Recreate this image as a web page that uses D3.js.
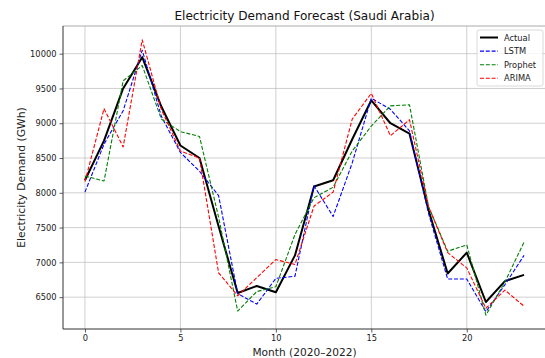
<!DOCTYPE html>
<html>
<head>
<meta charset="utf-8">
<script src="https://cdn.jsdelivr.net/npm/d3@7"></script>
<style>
  html, body { margin: 0; padding: 0; background: #fff; }
  svg { display: block; font-family: "DejaVu Sans", sans-serif; }
</style>
</head>
<body>
<svg id="chart" width="545" height="358"></svg>
<script>
// Monthly electricity demand (GWh), Jan 2020 – Dec 2022, with three model forecasts
const months = d3.range(24);
const actual  = [8180, 8750, 9500, 9950, 9240, 8680, 8500, 7520, 6560, 6660, 6570, 7100,
                 8090, 8180, 8770, 9330, 9000, 8850, 7750, 6840, 7140, 6430, 6730, 6820];
const lstm    = [8010, 8700, 9180, 10050, 9100, 8580, 8310, 7960, 6550, 6400, 6770, 6800,
                 8100, 7660, 8430, 9360, 9200, 8890, 7700, 6760, 6760, 6290, 6680, 7100];
const prophet = [8240, 8170, 9610, 9830, 9060, 8880, 8810, 7650, 6300, 6580, 6650, 7400,
                 7930, 8080, 8600, 8960, 9250, 9265, 7800, 7160, 7250, 6240, 6720, 7290];
const arima   = [8160, 9210, 8660, 10200, 9200, 8600, 8500, 6850, 6520, 6780, 7040, 6970,
                 7810, 8010, 9060, 9430, 8820, 9050, 7800, 7140, 6920, 6340, 6600, 6370];
const xTicks = [0, 5, 10, 15, 20];
const yTicks = [6500, 7000, 7500, 8000, 8500, 9000, 9500, 10000];

const seriesNames  = ["Actual", "LSTM", "Prophet", "ARIMA"];
const seriesValues = [actual, lstm, prophet, arima];
const seriesColors = ["#000000", "#0000ff", "#008000", "#ff0000"];

const svg = d3.select("#chart");
const margin = { left: 63, right: -1, top: 26, bottom: 29 };
const W = 545, H = 358;
const x0 = margin.left, x1 = W - margin.right, y0 = margin.top, y1 = H - margin.bottom;

// Axis limits padded by 5% of the data span on each side
const xPad = (months.length - 1) * 0.05;
const x = d3.scaleLinear().domain([-xPad, months.length - 1 + xPad]).range([x0, x1]);
const all = seriesValues.flat();
const lo = d3.min(all), hi = d3.max(all), yPad = (hi - lo) * 0.05;
const y = d3.scaleLinear().domain([lo - yPad, hi + yPad]).range([y1, y0]);

svg.append("defs").append("clipPath").attr("id", "plot")
  .append("rect").attr("x", x0).attr("y", y0).attr("width", x1 - x0).attr("height", y1 - y0);

// Grid
const grid = svg.append("g").attr("stroke", "#b0b0b0").attr("stroke-opacity", 0.6).attr("stroke-width", 1);
xTicks.forEach(t => grid.append("line")
  .attr("x1", x(t)).attr("x2", x(t)).attr("y1", y0).attr("y2", y1));
yTicks.forEach(t => grid.append("line")
  .attr("x1", x0).attr("x2", x1).attr("y1", y(t)).attr("y2", y(t)));

// Axes
const xAxis = svg.append("g").attr("transform", `translate(0,${y1})`)
  .call(d3.axisBottom(x).tickValues(xTicks).tickSize(3.5).tickPadding(3).tickFormat(d3.format("d")));
const yAxis = svg.append("g").attr("transform", `translate(${x0},0)`)
  .call(d3.axisLeft(y).tickValues(yTicks).tickSize(3.5).tickPadding(3).tickFormat(d3.format("d")));
[xAxis, yAxis].forEach(a => {
  a.selectAll("text").attr("font-size", 8.3).attr("fill", "#222").attr("font-family", "DejaVu Sans");
  a.selectAll("line").attr("stroke", "#333").attr("stroke-width", 0.8);
});
xAxis.select(".domain").remove();
yAxis.select(".domain").remove();
svg.append("line").attr("x1", x0).attr("x2", x1).attr("y1", y0).attr("y2", y0)
  .attr("stroke", "#aaa").attr("stroke-width", 1);
svg.append("line").attr("x1", x0).attr("x2", x0).attr("y1", y0).attr("y2", y1)
  .attr("stroke", "#333").attr("stroke-width", 1);
svg.append("line").attr("x1", x0).attr("x2", x1).attr("y1", y1).attr("y2", y1)
  .attr("stroke", "#333").attr("stroke-width", 1);

// Series lines
const line = d3.line().x((d, i) => x(months[i])).y(d => y(d));
const plot = svg.append("g").attr("clip-path", "url(#plot)");
seriesValues.forEach((vals, k) => {
  plot.append("path").datum(vals)
    .attr("d", line)
    .attr("fill", "none")
    .attr("stroke", seriesColors[k])
    .attr("stroke-width", k === 0 ? 2 : 1.1)
    .attr("stroke-dasharray", k === 0 ? null : "4,1.8")
    .attr("stroke-linejoin", "round");
});

// Title and axis labels
svg.append("text").attr("x", (x0 + x1) / 2).attr("y", 20)
  .attr("text-anchor", "middle").attr("font-size", 12.1).attr("fill", "#111")
  .text("Electricity Demand Forecast (Saudi Arabia)");
svg.append("text").attr("x", (x0 + x1) / 2).attr("y", 356)
  .attr("text-anchor", "middle").attr("font-size", 10.6).attr("fill", "#222")
  .text("Month (2020–2022)");
svg.append("text").attr("transform", `translate(25,${(y0 + y1) / 2}) rotate(-90)`)
  .attr("text-anchor", "middle").attr("font-size", 10.8).attr("fill", "#222")
  .text("Electricity Demand (GWh)");

// Legend
const lg = svg.append("g").attr("transform", "translate(477,30)");
lg.append("rect").attr("width", 66).attr("height", 56).attr("rx", 2)
  .attr("fill", "#fff").attr("fill-opacity", 0.8).attr("stroke", "#d0d0d0").attr("stroke-width", 0.8);
seriesNames.forEach((name, k) => {
  const cy = 7.5 + k * 13.6;
  lg.append("line").attr("x1", 3).attr("x2", 21).attr("y1", cy).attr("y2", cy)
    .attr("stroke", seriesColors[k]).attr("stroke-width", k === 0 ? 2 : 1.1)
    .attr("stroke-dasharray", k === 0 ? null : "4,1.8");
  lg.append("text").attr("x", 27).attr("y", cy + 3).attr("font-size", 8.3).attr("fill", "#222")
    .text(name);
});
</script>
</body>
</html>
